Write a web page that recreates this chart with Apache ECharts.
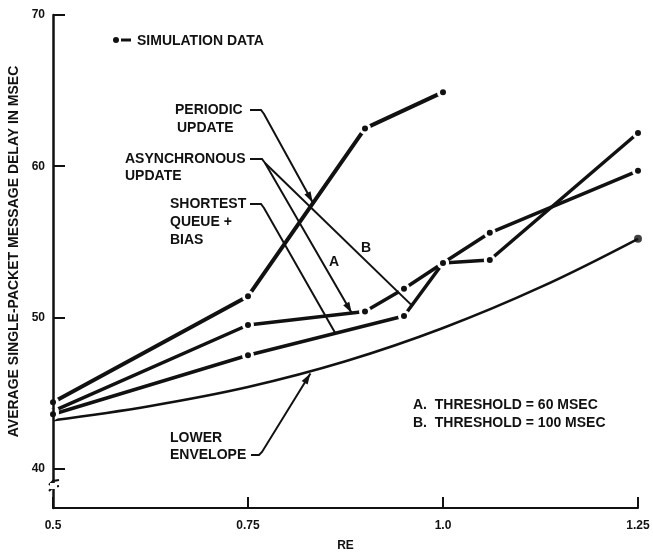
<!DOCTYPE html>
<html>
<head>
<meta charset="utf-8">
<script src="https://cdn.jsdelivr.net/npm/echarts@6/dist/echarts.min.js"></script>
<style>
  html, body { margin: 0; padding: 0; background: #fff; }
  #chart { width: 653px; height: 552px; }
</style>
</head>
<body>
<div id="chart"></div>
<script>
// axis ticks
const reTicks = [0.5, 0.75, 1.0, 1.25]
const delayTicks = [40, 50, 60, 70]

// simulation data
const periodicRE = [0.5, 0.75, 0.9, 1.0]
const periodicDelay = [44.4, 51.4, 62.5, 64.9]
const asyncRE = [0.5, 0.75, 0.9, 0.95, 1.0, 1.06, 1.25]
const asyncDelay = [43.8, 49.5, 50.4, 51.9, 53.6, 55.6, 59.7]
const queueRE = [0.5, 0.75, 0.95, 1.0, 1.06, 1.25]
const queueDelay = [43.6, 47.5, 50.1, 53.6, 53.8, 62.2]
const envelopeRE = [0.5, 0.625, 0.75, 0.875, 1.0, 1.125, 1.25]
const envelopeDelay = [43.2, 44.15, 45.4, 47.1, 49.3, 52.0, 55.2]

const ink = '#111'
const font = '"Liberation Sans", Arial, sans-serif'

const zip = (xs, ys) => xs.map((x, i) => [x, ys[i]])

const dataLine = (name, xs, ys, width) => ({
  name,
  type: 'line',
  data: zip(xs, ys),
  symbol: 'circle',
  symbolSize: 9,
  clip: false,
  silent: true,
  itemStyle: { color: ink, borderColor: '#fff', borderWidth: 3 },
  lineStyle: { color: ink, width },
  z: 4,
})

const chart = echarts.init(document.getElementById('chart'))

chart.setOption({
  animation: false,
  backgroundColor: '#fff',
  grid: { left: 53, right: 15, top: 15, bottom: 44, outerBoundsMode: 'none' },
  xAxis: {
    type: 'value',
    min: 0.5,
    max: 1.25,
    name: 'RE',
    nameLocation: 'middle',
    nameGap: 32,
    nameTextStyle: { fontFamily: font, fontWeight: 'bold', fontSize: 12, color: ink },
    axisLine: { lineStyle: { color: ink, width: 2 } },
    axisTick: { inside: true, length: 11, customValues: reTicks, lineStyle: { color: ink, width: 2 } },
    axisLabel: {
      customValues: reTicks,
      margin: 12,
      fontFamily: font,
      fontWeight: 'bold',
      fontSize: 12,
      color: ink,
      formatter: (v) => (v === 1 ? '1.0' : String(v)),
    },
    splitLine: { show: false },
  },
  yAxis: {
    type: 'value',
    min: 37.4,
    max: 70,
    z: 5,
    name: 'AVERAGE SINGLE-PACKET MESSAGE DELAY IN MSEC',
    nameLocation: 'middle',
    nameGap: 31,
    nameTextStyle: { fontFamily: font, fontWeight: 'bold', fontSize: 14, color: ink, padding: [0, 0, 0, 20] },
    axisLine: { lineStyle: { color: ink, width: 2.5 } },
    axisTick: { inside: true, length: 12, customValues: delayTicks, lineStyle: { color: ink, width: 2 } },
    axisLabel: {
      customValues: delayTicks,
      margin: 8,
      fontFamily: font,
      fontWeight: 'bold',
      fontSize: 12,
      color: ink,
    },
    splitLine: { show: false },
  },
  series: [
    dataLine('Periodic update', periodicRE, periodicDelay, 4),
    dataLine('Asynchronous update', asyncRE, asyncDelay, 3.5),
    dataLine('Shortest queue + bias', queueRE, queueDelay, 3.5),
    {
      name: 'Lower envelope',
      type: 'line',
      data: zip(envelopeRE, envelopeDelay),
      smooth: 0.4,
      symbol: 'none',
      silent: true,
      clip: false,
      lineStyle: { color: ink, width: 2.5 },
      z: 3,
    },
    {
      name: 'Lower envelope end',
      type: 'scatter',
      data: zip(envelopeRE, envelopeDelay).slice(-1),
      symbol: 'circle',
      symbolSize: 8,
      silent: true,
      clip: false,
      itemStyle: { color: ink },
      z: 4,
    },
  ],
})

// annotations: labels in pixels, arrow tips in data units
const px = (pt) => chart.convertToPixel({ gridIndex: 0 }, pt)

const text = (str, x, y, align) => ({
  type: 'text',
  z: 10,
  silent: true,
  style: {
    text: str,
    x,
    y,
    fill: ink,
    font: 'bold 14px ' + font,
    align: align || 'left',
    verticalAlign: 'middle',
  },
})

const leader = (points) => ({
  type: 'polyline',
  z: 10,
  silent: true,
  shape: { points },
  style: { stroke: ink, lineWidth: 2, fill: null },
})

const arrow = (from, tip) => {
  const dx = tip[0] - from[0]
  const dy = tip[1] - from[1]
  const len = Math.hypot(dx, dy)
  const ux = dx / len
  const uy = dy / len
  const bx = tip[0] - ux * 11
  const by = tip[1] - uy * 11
  return {
    type: 'polygon',
    z: 10,
    silent: true,
    shape: { points: [tip, [bx - uy * 3.5, by + ux * 3.5], [bx + uy * 3.5, by - ux * 3.5]] },
    style: { fill: ink },
  }
}

const periodicTip = px([0.833, 57.6])
const asyncATip = px([0.883, 50.3])
const asyncBTip = px([0.96, 50.8])
const queueTip = px([0.862, 48.95])
const envelopeTip = px([0.83, 46.3])

const asyncFork = [265, 163]

chart.setOption({
  graphic: [
    // simulation data key
    { type: 'circle', z: 10, silent: true, shape: { cx: 116, cy: 40, r: 3 }, style: { fill: ink } },
    { type: 'line', z: 10, silent: true, shape: { x1: 121, y1: 40, x2: 131, y2: 40 }, style: { stroke: ink, lineWidth: 3 } },
    text('SIMULATION DATA', 137, 41),

    text('PERIODIC', 175, 110),
    text('UPDATE', 177, 128),
    leader([[250, 110], [261, 110], [264, 114], periodicTip]),
    arrow([264, 114], periodicTip),

    text('ASYNCHRONOUS', 125, 159),
    text('UPDATE', 125, 176),
    leader([[250, 159], [262, 159], asyncFork, asyncATip]),
    leader([asyncFork, asyncBTip]),
    arrow(asyncFork, asyncATip),
    text('A', 334, 262, 'center'),
    text('B', 366, 248, 'center'),

    text('SHORTEST', 170, 204),
    text('QUEUE +', 170, 222),
    text('BIAS', 170, 240),
    leader([[250, 204], [261, 204], [264, 208], queueTip]),

    text('LOWER', 170, 438),
    text('ENVELOPE', 170, 455),
    leader([[251, 455], [259, 455], [262, 452], envelopeTip]),
    arrow([262, 452], envelopeTip),

    text('A.  THRESHOLD = 60 MSEC', 413, 405),
    text('B.  THRESHOLD = 100 MSEC', 413, 423),

    // axis break on the delay axis
    { type: 'rect', z: 11, silent: true, shape: { x: 50, y: 483, width: 7, height: 6 }, style: { fill: '#fff' } },
    leader([[49, 485], [53, 481], [59, 480]]),
    leader([[49, 491], [53, 487], [59, 486]]),
  ],
})
</script>
</body>
</html>
